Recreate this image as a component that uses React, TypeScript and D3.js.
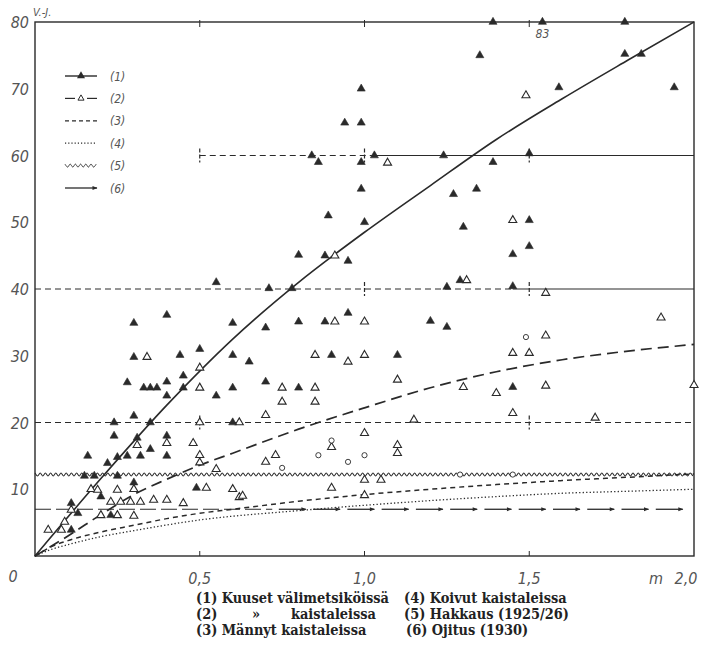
import React from "react";
import * as d3 from "d3";

// ---- data ----
const xTicks = [0.5, 1.0, 1.5];
const xTickLabels = ["0,5", "1,0", "1,5"];
const yTicks = [10, 20, 30, 40, 50, 60, 70, 80];

// fitted curves: [m, value]
const curve1 = [[0,0],[0.2,11.6],[0.4,22.6],[0.6,32.5],[0.8,41],[1.0,48.5],[1.2,55.5],[1.4,62.4],[1.6,68.5],[1.8,74.3],[2.0,80]];
const curve2 = [[0,0],[0.1,3],[0.2,6.2],[0.3,9.2],[0.4,11.5],[0.5,13.6],[0.6,15.4],[0.8,19],[1.0,22.2],[1.2,25.2],[1.4,27.6],[1.6,29.4],[1.8,30.7],[2.0,31.7]];
const curve3 = [[0,0],[0.05,1.4],[0.1,2.3],[0.2,3.6],[0.3,4.6],[0.4,5.6],[0.5,6.4],[0.6,7],[0.8,8.2],[1.0,9.2],[1.2,10],[1.4,10.7],[1.6,11.3],[1.8,11.8],[2.0,12.3]];
const curve4 = [[0,0],[0.05,1],[0.1,1.7],[0.2,2.9],[0.3,3.8],[0.5,5.4],[0.8,6.8],[1.0,7.6],[1.2,8.3],[1.4,8.9],[1.6,9.4],[1.8,9.7],[2.0,10]];
const hakkausLevel = 12.2;
const ojitusLevel = 7;

// spruce in välimetsikkö (filled triangles)
const filledPts = [
  [1.39,80],[1.54,80],[1.79,80],
  [1.35,75],[1.79,75.2],[1.84,75.2],[1.94,70.2],[1.59,70.2],
  [1.50,60.3],[1.39,59],[1.27,54.2],[1.34,55],[1.30,49.3],[1.50,50.3],[1.50,46.4],[1.45,45.2],[1.29,41.3],[1.45,40.4],
  [0.99,70],[0.94,64.9],[0.99,64.9],[0.84,60],[0.86,59],[0.99,59],[1.03,60],[1.24,60],[0.99,55],[0.89,51],[1.0,50],
  [0.80,45.1],[0.88,45],[0.95,44.2],[0.71,40.1],[0.78,40.1],[1.25,40.3],[0.55,41],
  [0.30,34.9],[0.40,36.1],[0.60,34.9],[0.30,29.8],[0.44,30.1],[0.50,31],[0.60,30.1],[0.65,29.1],[0.45,27],[0.28,26],
  [0.33,25.2],[0.35,25.2],[0.37,25.2],[0.40,26.1],[0.45,25.2],[0.60,25.2],[0.40,24],[0.55,24],[0.30,21],[0.24,20],
  [0.35,20],[0.60,20],[0.24,18],[0.31,17.7],[0.40,18],[0.35,16],[0.16,15],[0.22,13.9],[0.25,14.8],[0.28,15],[0.32,15],
  [0.40,15],[0.15,12],[0.18,12],[0.25,12],[0.30,11],[0.49,10.2],[0.23,6.1],[0.13,6.4],[0.11,3.9],[0.20,8.9],[0.11,7.9],
  [0.80,35.1],[0.88,35.1],[0.95,36.4],[1.20,35.2],[1.25,34.3],[0.70,34.2],[0.90,30.1],[1.10,30.1],[0.70,26.1],[0.80,25.2],
  [1.45,25.3]
];
// spruce in strips (open triangles)
const openPts = [
  [1.49,69],[1.07,58.9],[1.45,50.3],[1.31,41.3],[1.55,39.4],[0.91,45],
  [0.34,29.8],[0.50,28.2],[0.50,25.2],[0.50,20],[0.62,20],[0.31,16.6],[0.40,16.9],[0.48,16.9],[0.50,15.1],[0.50,14],
  [0.55,13],[0.17,10],[0.19,9.9],[0.25,9.9],[0.30,10],[0.52,10.2],[0.60,10],[0.23,8.1],[0.26,8.1],[0.29,8.1],[0.32,8.1],
  [0.36,8.4],[0.40,8.4],[0.45,7.9],[0.62,8.8],[0.20,6.1],[0.25,6.1],[0.30,6],[0.11,6.9],[0.09,5.1],[0.08,3.9],[0.04,3.9],
  [0.91,35.1],[1.0,35.1],[0.85,30.1],[0.95,29.1],[1.0,30.1],[0.75,25.2],[0.85,25.2],[0.75,23.1],[0.85,23.1],[1.10,26.4],
  [1.30,25.3],[0.70,21.1],[1.15,20.4],[1.0,18.4],[0.90,16.3],[1.10,16.6],[1.10,15.4],[0.73,15.1],[0.70,14.1],[1.0,11.4],
  [1.05,11.4],[0.63,9],[0.90,10.2],[1.0,9.1],
  [1.90,35.7],[1.55,33],[1.45,30.4],[1.50,30.4],[1.40,24.4],[1.55,25.5],[2.0,25.6],[1.45,21.4],[1.70,20.7]
];
// other small marks
const smallPts = [[0.90,17.3],[0.95,14.1],[0.86,15.1],[1.0,15.1],[0.75,13.2],[1.49,32.8],[1.29,12.2],[1.45,12.2]];

// reference lines: level, dashed span, solid span
const refLevels = [60, 40, 20];
const refDashFrom = [0.5, 0, 0];
const refDashTo = [1.02, 1.45, 2.0];
const refSolidTo = [2.0, 2.0, 2.0];
const refMarks = [[0.5, 1.0, 1.5], [1.0, 1.5], [0.5, 1.5]];

const legendKeys = ["(1)", "(2)", "(3)", "(4)", "(5)", "(6)"];
const captionLeft = ["(1) Kuuset välimetsiköissä", "(2)", "(3) Männyt kaistaleissa"];
const captionRight = ["(4) Koivut kaistaleissa", "(5) Hakkaus (1925/26)", "(6) Ojitus (1930)"];

const INK = "#2a2a2a";
const LABEL = "#555";
const handFont = "'DejaVu Sans Condensed', 'DejaVu Sans', sans-serif";
const capFont = "'DejaVu Serif Condensed', 'DejaVu Serif', serif";

export default function App() {
  const W = 706, H = 645;
  const x = d3.scaleLinear().domain([0, 2]).range([35, 694]);
  const y = d3.scaleLinear().domain([0, 80]).range([556, 22]);
  const line = d3.line<number[]>().x(d => x(d[0])).y(d => y(d[1])).curve(d3.curveMonotoneX);
  const tri = d3.symbol().type(d3.symbolTriangle).size(28)()!;
  const triSmall = d3.symbol().type(d3.symbolTriangle).size(16)()!;

  // wavy line path (styling of the hakkaus level)
  const wave = (x0: number, x1: number, yy: number) => {
    const pts: [number, number][] = [];
    let i = 0;
    for (let px = x0; px <= x1; px += 2.6, i++) pts.push([px, yy + (i % 2 === 0 ? -1.5 : 1.5)]);
    return d3.line().curve(d3.curveCatmullRom)(pts)!;
  };

  // ojitus arrow segments
  const arrowSegs: [number, number][] = [];
  const segLen = 0.082, gap = 0.022;
  for (let s = 0.74; s + segLen <= 2.0 + 1e-6; s += segLen + gap) arrowSegs.push([s, s + segLen]);

  const legendY = (i: number) => 76 + i * 22.4;

  return (
    <svg width={W} height={H} style={{ position: "absolute", left: 0, top: 0, background: "#fff" }}>
      <defs>
        <marker id="arr" viewBox="0 0 10 10" refX="9" refY="5" markerWidth="6" markerHeight="5" orient="auto" markerUnits="userSpaceOnUse">
          <path d="M0,1 L10,5 L0,9 Z" fill={INK} />
        </marker>
      </defs>

      {/* frame */}
      <rect x={x(0)} y={y(80)} width={x(2) - x(0)} height={y(0) - y(80)} fill="none" stroke={INK} strokeWidth={1.4} />
      {xTicks.map((t, i) => (
        <g key={"xt" + i}>
          <line x1={x(t)} x2={x(t)} y1={y(0)} y2={y(0) - 5} stroke={INK} strokeWidth={1} />
          <line x1={x(t)} x2={x(t)} y1={y(80) - 2} y2={y(80) + 5} stroke={INK} strokeWidth={1} />
        </g>
      ))}

      {/* reference lines */}
      {refLevels.map((lv, i) => (
        <g key={"ref" + i}>
          <line x1={x(refDashFrom[i])} x2={x(refDashTo[i])} y1={y(lv)} y2={y(lv)} stroke={INK} strokeWidth={1} strokeDasharray="6,4" />
          {refSolidTo[i] > refDashTo[i] && (
            <line x1={x(refDashTo[i])} x2={x(refSolidTo[i])} y1={y(lv)} y2={y(lv)} stroke={INK} strokeWidth={1.1} />
          )}
          {refMarks[i].map((m, j) => (
            <line key={j} x1={x(m)} x2={x(m)} y1={y(lv) - 7} y2={y(lv) + 7} stroke={INK} strokeWidth={1.2} strokeDasharray="4,2" />
          ))}
        </g>
      ))}

      {/* hakkaus (wavy) */}
      <path d={wave(x(0), x(2), y(hakkausLevel))} fill="none" stroke={INK} strokeWidth={1.1} />

      {/* ojitus (arrow line) */}
      <line x1={x(0)} x2={x(0.72)} y1={y(ojitusLevel)} y2={y(ojitusLevel)} stroke={INK} strokeWidth={1.1} strokeDasharray="16,5" />
      {arrowSegs.map((s, i) => (
        <line key={"ar" + i} x1={x(s[0])} x2={x(s[1])} y1={y(ojitusLevel)} y2={y(ojitusLevel)} stroke={INK} strokeWidth={1.3} markerEnd="url(#arr)" />
      ))}

      {/* fitted curves */}
      <path d={line(curve1)!} fill="none" stroke={INK} strokeWidth={1.6} />
      <path d={line(curve2)!} fill="none" stroke={INK} strokeWidth={1.7} strokeDasharray="11,6" />
      <path d={line(curve3)!} fill="none" stroke={INK} strokeWidth={1.5} strokeDasharray="5,4" />
      <path d={line(curve4)!} fill="none" stroke={INK} strokeWidth={1.3} strokeDasharray="1.3,2.2" />

      {/* points */}
      {openPts.map((p, i) => (
        <path key={"o" + i} d={tri} transform={`translate(${x(p[0])},${y(p[1])})`} fill="#fff" stroke={INK} strokeWidth={1.1} />
      ))}
      {smallPts.map((p, i) => (
        <circle key={"s" + i} cx={x(p[0])} cy={y(p[1])} r={2.6} fill="#fff" stroke={INK} strokeWidth={0.9} />
      ))}
      {filledPts.map((p, i) => (
        <path key={"f" + i} d={tri} transform={`translate(${x(p[0])},${y(p[1])})`} fill={INK} stroke={INK} strokeWidth={0.6} />
      ))}
      <text x={x(1.54)} y={y(80) + 16} textAnchor="middle" fontFamily={handFont} fontStyle="italic" fontSize={12} fill={LABEL}>83</text>

      {/* legend */}
      {legendKeys.map((k, i) => {
        const ly = legendY(i);
        const x0 = 65, x1 = 97;
        return (
          <g key={"lg" + i}>
            {i === 0 && <><line x1={x0} x2={x1} y1={ly} y2={ly} stroke={INK} strokeWidth={1.4} /><path d={tri} transform={`translate(${(x0 + x1) / 2},${ly})`} fill={INK} /></>}
            {i === 1 && <><line x1={x0} x2={x0 + 10} y1={ly} y2={ly} stroke={INK} strokeWidth={1.2} /><line x1={x1 - 10} x2={x1} y1={ly} y2={ly} stroke={INK} strokeWidth={1.2} /><path d={triSmall} transform={`translate(${(x0 + x1) / 2},${ly})`} fill="#fff" stroke={INK} strokeWidth={1} /></>}
            {i === 2 && <line x1={x0} x2={x1} y1={ly} y2={ly} stroke={INK} strokeWidth={1.2} strokeDasharray="4,3" />}
            {i === 3 && <line x1={x0} x2={x1} y1={ly} y2={ly} stroke={INK} strokeWidth={1.2} strokeDasharray="1.2,2" />}
            {i === 4 && <path d={wave(x0, x1, ly)} fill="none" stroke={INK} strokeWidth={0.9} />}
            {i === 5 && <line x1={x0} x2={x1} y1={ly} y2={ly} stroke={INK} strokeWidth={1.3} markerEnd="url(#arr)" />}
            <text x={110} y={ly + 4.5} fontFamily={handFont} fontStyle="italic" fontSize={12} fill={LABEL}>{k}</text>
          </g>
        );
      })}

      {/* y tick labels */}
      {yTicks.map(t => (
        <text key={"yl" + t} x={29} y={y(t) + 6} textAnchor="end" fontFamily={handFont} fontStyle="italic" fontSize={16} fill={LABEL}>{t}</text>
      ))}
      <text x={33} y={16} fontFamily={handFont} fontStyle="italic" fontSize={11} fill={LABEL}>V.-J.</text>

      {/* x tick labels */}
      <text x={13} y={582} textAnchor="middle" fontFamily={handFont} fontStyle="italic" fontSize={16} fill={LABEL}>0</text>
      {xTicks.map((t, i) => (
        <text key={"xl" + i} x={x(t)} y={584} textAnchor="middle" fontFamily={handFont} fontStyle="italic" fontSize={16} fill={LABEL}>{xTickLabels[i]}</text>
      ))}
      <text x={x(2) - 8} y={584} textAnchor="middle" fontFamily={handFont} fontStyle="italic" fontSize={16} fill={LABEL}>2,0</text>
      <text x={x(2) - 38} y={584} textAnchor="middle" fontFamily={handFont} fontStyle="italic" fontSize={16} fill={LABEL}>m</text>

      {/* caption */}
      <g fontFamily={capFont} fontWeight="bold" fontSize={14.4} fill="#222">
        <text x={196} y={603}>{captionLeft[0]}</text>
        <text x={196} y={619}>{captionLeft[1]}</text>
        <text x={256} y={619} textAnchor="middle">»</text>
        <text x={291} y={619}>kaistaleissa</text>
        <text x={196} y={635}>{captionLeft[2]}</text>
        <text x={404} y={603}>{captionRight[0]}</text>
        <text x={404} y={619}>{captionRight[1]}</text>
        <text x={406} y={635}>{captionRight[2]}</text>
      </g>
    </svg>
  );
}
